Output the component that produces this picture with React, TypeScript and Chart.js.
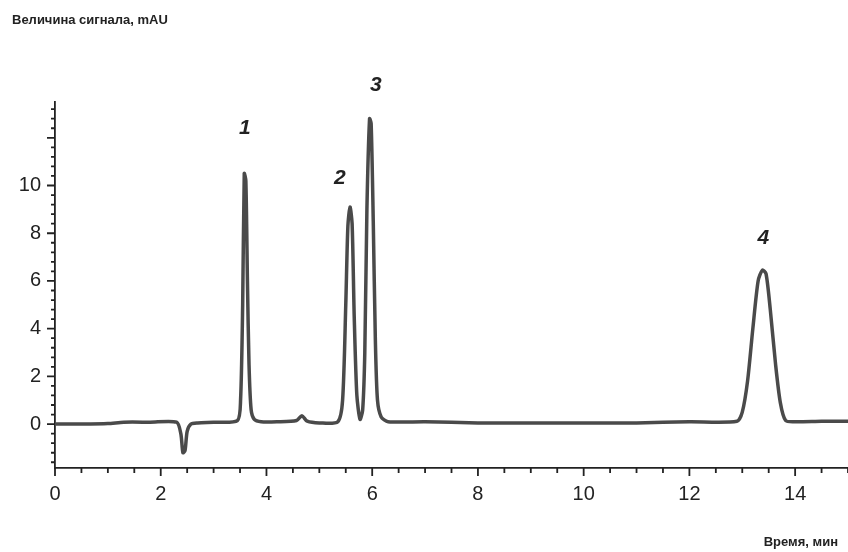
import React, { useEffect, useRef } from 'react';
import { Chart, registerables } from 'chart.js';

Chart.register(...registerables);

// chromatogram trace, time (min) and signal (mAU)
const TIME = [
  0, 0.5, 1.0, 1.3, 1.8, 2.3, 2.38, 2.42, 2.46, 2.5, 2.57, 2.7, 3.0, 3.45, 3.51,
  3.55, 3.58, 3.61, 3.64, 3.67, 3.71, 3.77, 3.9, 4.2, 4.57, 4.67, 4.77, 5.0,
  5.35, 5.44, 5.5, 5.54, 5.58, 5.62, 5.66, 5.71, 5.77, 5.82, 5.86, 5.9, 5.95,
  5.98, 6.02, 6.06, 6.1, 6.17, 6.3, 7.0, 8.0, 9.0, 10.0, 11.0, 12.0, 12.9,
  13.0, 13.1, 13.2, 13.3, 13.38, 13.45, 13.53, 13.63, 13.72, 13.82, 14.0, 14.5, 15.0,
];
const SIGNAL = [
  0.0, 0.0, 0.02, 0.08, 0.08, 0.08, -0.4, -1.2, -1.1, -0.3, 0.0, 0.05, 0.08,
  0.15, 1.0, 5.0, 10.5, 10.2, 6.0, 2.5, 0.6, 0.2, 0.1, 0.1, 0.15, 0.35, 0.12,
  0.05, 0.1, 1.0, 5.0, 8.3, 9.1, 8.4, 4.5, 1.2, 0.2, 0.6, 3.0, 9.0, 12.8, 12.6,
  8.5, 3.5, 1.0, 0.3, 0.1, 0.1, 0.05, 0.05, 0.05, 0.05, 0.1, 0.12, 0.5, 1.8,
  4.0, 6.0, 6.45, 6.3, 4.8, 2.5, 0.9, 0.15, 0.1, 0.12, 0.12,
];
const PEAK_NAMES = ['1', '2', '3', '4'];
const PEAK_TIME = [3.59, 5.39, 6.07, 13.4];
const PEAK_LABEL_Y = [12.4, 10.3, 14.2, 7.8];

const Y_LABELS = [0, 2, 4, 6, 8, 10];
const X_LABELS = [0, 2, 4, 6, 8, 10, 12, 14];

const INK = '#222';

const decor = {
  id: 'decor',
  afterDraw(chart: Chart) {
    const { ctx } = chart;
    const x = chart.scales.x;
    const y = chart.scales.y;
    const area = chart.chartArea;
    ctx.save();
    ctx.strokeStyle = INK;
    ctx.lineWidth = 1.8;
    ctx.beginPath();
    for (let v = 0; v <= 15.001; v += 0.5) {
      const px = x.getPixelForValue(v);
      const len = Math.abs(v % 2) < 1e-6 ? 8 : 5;
      ctx.moveTo(px, area.bottom);
      ctx.lineTo(px, area.bottom + len);
    }
    for (let i = -4; i <= 33; i++) {
      const v = i * 0.4;
      const py = y.getPixelForValue(v);
      if (py < area.top) continue;
      const major = i % 5 === 0;
      ctx.moveTo(area.left, py);
      ctx.lineTo(area.left - (major ? 8 : 4), py);
    }
    ctx.stroke();

    ctx.fillStyle = INK;
    ctx.font = 'bold 13px "Liberation Sans", Arial, sans-serif';
    ctx.textAlign = 'left';
    ctx.textBaseline = 'alphabetic';
    ctx.fillText('Величина сигнала, mAU', 12, 24);
    ctx.textAlign = 'right';
    ctx.fillText('Время, мин', 838, 546);

    ctx.font = 'italic bold 21px "Liberation Sans", Arial, sans-serif';
    ctx.textAlign = 'center';
    ctx.textBaseline = 'middle';
    PEAK_NAMES.forEach((n, i) => {
      ctx.fillText(n, x.getPixelForValue(PEAK_TIME[i]), y.getPixelForValue(PEAK_LABEL_Y[i]));
    });
    ctx.restore();
  },
};

const App: React.FC = () => {
  const canvasRef = useRef<HTMLCanvasElement>(null);
  const chartRef = useRef<Chart | null>(null);

  useEffect(() => {
    document.body.style.margin = '0';
    if (chartRef.current) chartRef.current.destroy();
    const ctx = canvasRef.current?.getContext('2d');
    if (!ctx) return;
    chartRef.current = new Chart(ctx, {
      type: 'line',
      data: {
        datasets: [
          {
            data: TIME.map((t, i) => ({ x: t, y: SIGNAL[i] })),
            borderColor: '#4a4a4a',
            borderWidth: 3.5,
            pointRadius: 0,
            tension: 0.25,
            fill: false,
          },
        ],
      },
      options: {
        animation: false,
        responsive: false,
        layout: { padding: { top: 102, right: 0, left: 0, bottom: 0 } },
        plugins: { legend: { display: false }, tooltip: { enabled: false } },
        scales: {
          x: {
            type: 'linear',
            min: 0,
            max: 15,
            afterFit: (s: any) => { s.height = 84; },
            afterBuildTicks: (s: any) => { s.ticks = X_LABELS.map((v) => ({ value: v })); },
            grid: { display: false, drawTicks: false },
            border: { display: true, color: INK, width: 1.8 },
            ticks: {
              padding: 14,
              color: INK,
              font: { size: 20, family: '"Liberation Sans", Arial, sans-serif' },
            },
          },
          y: {
            type: 'linear',
            min: -1.84,
            max: 13.5,
            afterFit: (s: any) => { s.width = 55; },
            afterBuildTicks: (s: any) => { s.ticks = Y_LABELS.map((v) => ({ value: v })); },
            grid: { display: false, drawTicks: false },
            border: { display: true, color: INK, width: 1.8 },
            ticks: {
              padding: 14,
              color: INK,
              font: { size: 20, family: '"Liberation Sans", Arial, sans-serif' },
            },
          },
        },
      },
      plugins: [decor],
    });
    return () => {
      if (chartRef.current) chartRef.current.destroy();
      chartRef.current = null;
    };
  }, []);

  return <canvas ref={canvasRef} width={848} height={552} style={{ display: 'block' }} />;
};

export default App;
